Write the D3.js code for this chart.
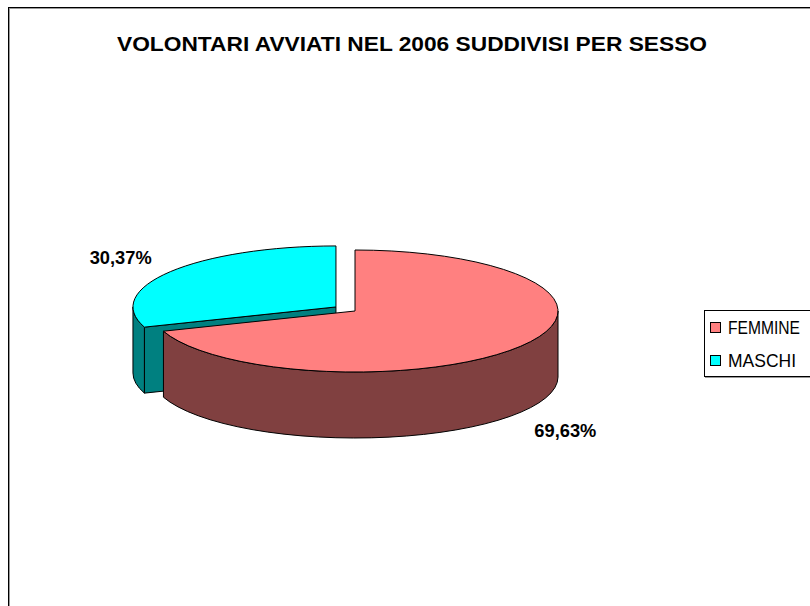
<!DOCTYPE html>
<html>
<head>
<meta charset="utf-8">
<script src="https://cdn.jsdelivr.net/npm/d3@7"></script>
<style>
  body { margin: 0; background: #fff; }
  text { font-family: "Liberation Sans Narrow", "Arial Narrow", "Liberation Sans", Arial, sans-serif; }
</style>
</head>
<body>
<div id="chart"></div>
<script>
// data
var categories = ["FEMMINE", "MASCHI"];
var values = [69.63, 30.37];
var valueLabels = ["69,63%", "30,37%"];
var title = "VOLONTARI AVVIATI NEL 2006 SUDDIVISI PER SESSO";

var topColors = ["#ff8080", "#00ffff"];
var sideColors = ["#804040", "#008080"];
var explode = [0, 0.115];

var width = 810, height = 606;
var cx = 355, cy = 311, rx = 203, ry = 61, depth = 66;

var svg = d3.select("#chart").append("svg")
    .attr("width", width)
    .attr("height", height);

// chart area border (runs off the right / bottom of the picture)
svg.append("rect")
    .attr("x", 9.5).attr("y", 8.5)
    .attr("width", 900).attr("height", 700)
    .attr("fill", "none").attr("stroke", "#999").attr("stroke-width", 1);
svg.append("rect")
    .attr("x", 8.5).attr("y", 7.5)
    .attr("width", 900).attr("height", 700)
    .attr("fill", "none").attr("stroke", "#000").attr("stroke-width", 1);

svg.append("text")
    .attr("x", 412).attr("y", 51)
    .attr("text-anchor", "middle")
    .attr("font-size", 20)
    .attr("font-weight", "bold")
    .attr("textLength", 590)
    .attr("lengthAdjust", "spacingAndGlyphs")
    .text(title);

var pie = d3.pie().sort(null).value(function(d) { return d; });
var arcs = pie(values);

// point on the ellipse, angle clockwise from 12 o'clock
function pt(c, a, k, dz) {
  return [c[0] + rx * k * Math.sin(a), c[1] - ry * k * Math.cos(a) + (dz || 0)];
}

function topPath(c, a0, a1) {
  var p0 = pt(c, a0, 1), p1 = pt(c, a1, 1);
  var large = (a1 - a0) > Math.PI ? 1 : 0;
  return "M" + c[0] + "," + c[1] + "L" + p0 + "A" + rx + "," + ry + " 0 " + large + " 1 " + p1 + "Z";
}

function sidePath(c, a0, a1) {
  var p0 = pt(c, a0, 1), p1 = pt(c, a1, 1);
  var q0 = pt(c, a0, 1, depth), q1 = pt(c, a1, 1, depth);
  return "M" + p0 + "A" + rx + "," + ry + " 0 0 1 " + p1 +
         "L" + q1 + "A" + rx + "," + ry + " 0 0 0 " + q0 + "Z";
}

function facePath(c, a) {
  var p = pt(c, a, 1), q = pt(c, a, 1, depth);
  return "M" + c[0] + "," + c[1] + "L" + p + "L" + q + "L" + c[0] + "," + (c[1] + depth) + "Z";
}

var slices = arcs.map(function(d, i) {
  var mid = (d.startAngle + d.endAngle) / 2;
  var c = [cx + rx * explode[i] * Math.sin(mid), cy - ry * explode[i] * Math.cos(mid)];
  return { d: d, i: i, mid: mid, c: c };
});

// back slices first
slices.sort(function(a, b) { return Math.cos(b.mid) - Math.cos(a.mid); });

var g = svg.append("g")
    .attr("stroke", "#000")
    .attr("stroke-width", 1)
    .attr("stroke-linejoin", "round");

slices.forEach(function(s) {
  var a0 = s.d.startAngle, a1 = s.d.endAngle;
  if (Math.sin(a0) < -1e-6) {
    g.append("path").attr("d", facePath(s.c, a0)).attr("fill", sideColors[s.i]);
  }
  if (Math.sin(a1) > 1e-6) {
    g.append("path").attr("d", facePath(s.c, a1)).attr("fill", sideColors[s.i]);
  }
  var s0 = Math.max(a0, Math.PI / 2), s1 = Math.min(a1, 3 * Math.PI / 2);
  if (s1 > s0) {
    g.append("path").attr("d", sidePath(s.c, s0, s1)).attr("fill", sideColors[s.i]);
  }
  g.append("path").attr("d", topPath(s.c, a0, a1)).attr("fill", topColors[s.i]);
});

// value labels
slices.forEach(function(s) {
  var front = Math.cos(s.mid) < 0;
  var p = pt(s.c, s.mid, front ? 1.27 : 1.30, front ? depth : 0);
  svg.append("text")
      .attr("x", p[0]).attr("y", p[1] + (front ? 15 : 3))
      .attr("text-anchor", "middle")
      .attr("font-size", 19)
      .attr("font-weight", "bold")
      .attr("textLength", 62)
      .attr("lengthAdjust", "spacingAndGlyphs")
      .text(valueLabels[s.i]);
});

// legend
var legend = svg.append("g").attr("transform", "translate(704,310)");
legend.append("rect")
    .attr("x", 1.5).attr("y", 1.5).attr("width", 120).attr("height", 66)
    .attr("fill", "none").attr("stroke", "#999");
legend.append("rect")
    .attr("x", 0.5).attr("y", 0.5).attr("width", 120).attr("height", 66)
    .attr("fill", "#fff").attr("stroke", "#000");

var legendY = d3.scalePoint().domain(categories).range([18, 51]);
var legendW = [72, 68];

categories.forEach(function(name, i) {
  legend.append("rect")
      .attr("x", 6.5).attr("y", legendY(name) - 5.5)
      .attr("width", 10).attr("height", 10)
      .attr("fill", topColors[i]).attr("stroke", "#000");
  legend.append("text")
      .attr("x", 24).attr("y", legendY(name) + 6)
      .attr("font-size", 18)
      .attr("textLength", legendW[i])
      .attr("lengthAdjust", "spacingAndGlyphs")
      .text(name);
});
</script>
</body>
</html>
